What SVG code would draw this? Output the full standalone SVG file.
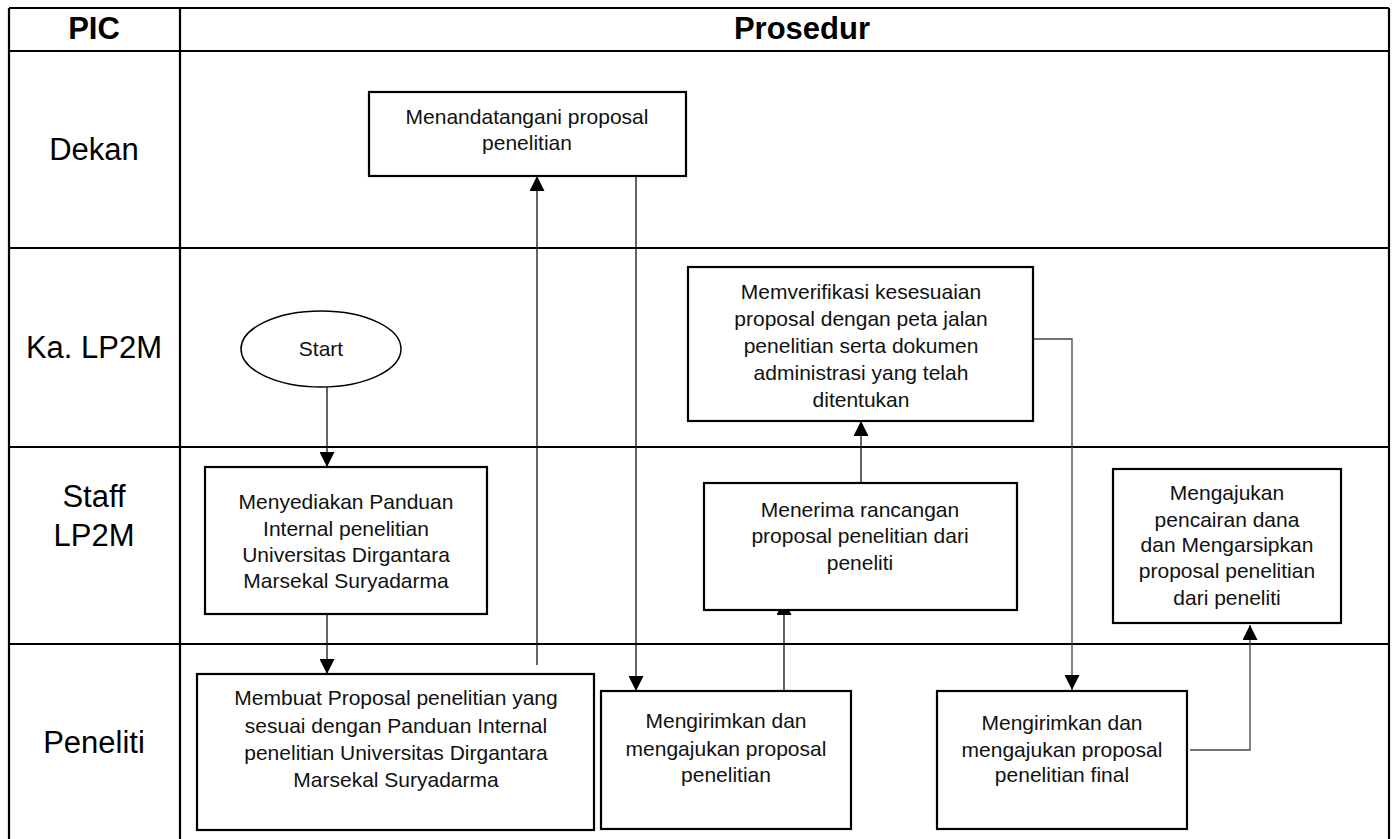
<svg xmlns="http://www.w3.org/2000/svg" width="1394" height="839" viewBox="0 0 1394 839">
  <style>
    .grid { stroke: #000; stroke-width: 2.2; fill: none; }
    .lane { font-family: "Liberation Sans", Arial, sans-serif; font-size: 31px; fill: #000; text-anchor: middle; }
    .head { font-family: "Liberation Sans", Arial, sans-serif; font-size: 31px; font-weight: bold; fill: #000; text-anchor: middle; }
    .box { fill: #fff; stroke: #000; stroke-width: 2.2; }
    .txt { font-family: "Liberation Sans", Arial, sans-serif; font-size: 21px; fill: #111; text-anchor: middle; }
    .conn { stroke: #111; stroke-width: 1.3; fill: none; marker-end: url(#arrow); }
    .conn-gray { stroke: #444; stroke-width: 1.3; fill: none; marker-end: url(#arrow); }
  </style>
  <defs>
    <marker id="arrow" markerUnits="userSpaceOnUse" markerWidth="15" markerHeight="15" refX="15" refY="7.5" orient="auto">
      <path d="M0,0 L15,7.5 L0,15 z" fill="#000"/>
    </marker>
  </defs>

  <rect width="1394" height="839" fill="#fff"/>

  <!-- swimlane table -->
  <g id="table">
    <path class="grid" d="M9,8 H1389 M9,51 H1389 M9,248 H1389 M9,447 H1389 M9,644 H1389 M9,8 V842 M180,8 V842 M1389,8 V842"/>
    <text class="head" x="94" y="39">PIC</text>
    <text class="head" x="802" y="39">Prosedur</text>
    <text class="lane" x="94" y="160">Dekan</text>
    <text class="lane" x="94" y="358">Ka. LP2M</text>
    <text class="lane" x="94" y="507">Staff</text>
    <text class="lane" x="94" y="546">LP2M</text>
    <text class="lane" x="94" y="753">Peneliti</text>
  </g>

  <!-- connectors -->
  <g id="connectors">
    <path class="conn" d="M327,387 V467"/>
    <path class="conn" d="M327,614 V674"/>
    <path class="conn" d="M537,665 V176"/>
    <path class="conn" d="M636,176 V691"/>
    <path class="conn" d="M784,691 V600"/>
    <path class="conn" d="M861,483 V421"/>
    <path class="conn-gray" d="M1033,339 H1072 V690"/>
    <path class="conn-gray" d="M1190,750 H1250 V625"/>
  </g>

  <g id="start">
    <ellipse cx="321" cy="349" rx="80" ry="38" fill="#fff" stroke="#000" stroke-width="1.5"/>
    <text class="txt" x="321" y="356" font-size="20">Start</text>
  </g>

  <g id="menandatangani">
    <rect class="box" x="369" y="92" width="317" height="84"/>
    <text class="txt" x="527" y="124">Menandatangani proposal</text>
    <text class="txt" x="527" y="150">penelitian</text>
  </g>

  <g id="memverifikasi">
    <rect class="box" x="688" y="267" width="345" height="154"/>
    <text class="txt" x="861" y="299">Memverifikasi kesesuaian</text>
    <text class="txt" x="861" y="326">proposal dengan peta jalan</text>
    <text class="txt" x="861" y="353">penelitian serta dokumen</text>
    <text class="txt" x="861" y="380">administrasi yang telah</text>
    <text class="txt" x="861" y="407">ditentukan</text>
  </g>

  <g id="menyediakan">
    <rect class="box" x="205" y="467" width="282" height="147"/>
    <text class="txt" x="346" y="509">Menyediakan Panduan</text>
    <text class="txt" x="346" y="536">Internal penelitian</text>
    <text class="txt" x="346" y="562">Universitas Dirgantara</text>
    <text class="txt" x="346" y="588">Marsekal Suryadarma</text>
  </g>

  <g id="menerima">
    <rect class="box" x="704" y="483" width="313" height="127"/>
    <text class="txt" x="860" y="517">Menerima rancangan</text>
    <text class="txt" x="860" y="543">proposal penelitian dari</text>
    <text class="txt" x="860" y="570">peneliti</text>
  </g>

  <g id="mengajukan">
    <rect class="box" x="1113" y="469" width="228" height="154"/>
    <text class="txt" x="1227" y="500">Mengajukan</text>
    <text class="txt" x="1227" y="527">pencairan dana</text>
    <text class="txt" x="1227" y="552">dan Mengarsipkan</text>
    <text class="txt" x="1227" y="578">proposal penelitian</text>
    <text class="txt" x="1227" y="605">dari peneliti</text>
  </g>

  <g id="membuat">
    <rect class="box" x="197" y="674" width="397" height="156"/>
    <text class="txt" x="396" y="705">Membuat Proposal penelitian yang</text>
    <text class="txt" x="396" y="733">sesuai dengan Panduan Internal</text>
    <text class="txt" x="396" y="760">penelitian Universitas Dirgantara</text>
    <text class="txt" x="396" y="787">Marsekal Suryadarma</text>
  </g>

  <g id="mengirimkan">
    <rect class="box" x="601" y="691" width="250" height="138"/>
    <text class="txt" x="726" y="728">Mengirimkan dan</text>
    <text class="txt" x="726" y="756">mengajukan proposal</text>
    <text class="txt" x="726" y="782">penelitian</text>
  </g>

  <g id="mengirimkan-final">
    <rect class="box" x="937" y="691" width="250" height="138"/>
    <text class="txt" x="1062" y="730">Mengirimkan dan</text>
    <text class="txt" x="1062" y="757">mengajukan proposal</text>
    <text class="txt" x="1062" y="782">penelitian final</text>
  </g>
</svg>
